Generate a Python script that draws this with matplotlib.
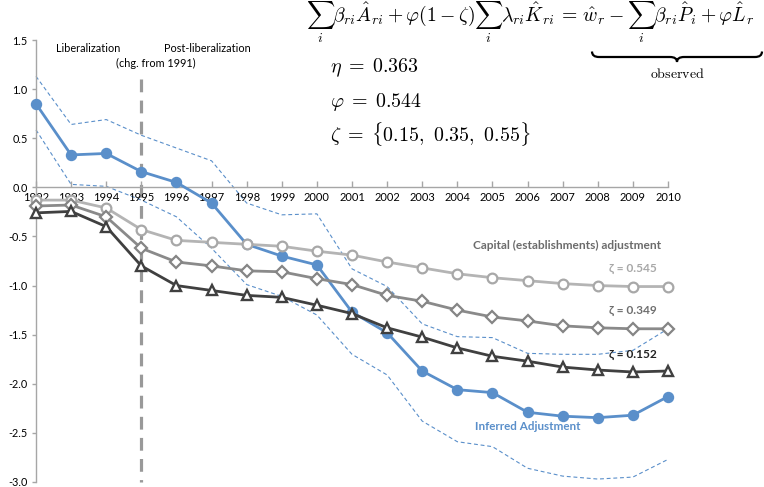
import matplotlib
matplotlib.use("Agg")
import matplotlib.pyplot as plt
from matplotlib.path import Path
from matplotlib.patches import PathPatch

plt.rcParams['mathtext.fontset'] = 'cm'
plt.rcParams['font.family'] = ['Lato', 'DejaVu Sans']

years = list(range(1992, 2011))
year_labels = [str(y) for y in years]

inferred = [0.85, 0.33, 0.345, 0.16, 0.05, -0.16, -0.58, -0.70, -0.79, -1.27,
            -1.48, -1.87, -2.06, -2.09, -2.29, -2.33, -2.345, -2.32, -2.13]
upper = [1.13, 0.64, 0.69, 0.53, 0.40, 0.27, -0.16, -0.28, -0.27, -0.83,
         -1.01, -1.39, -1.52, -1.53, -1.69, -1.70, -1.70, -1.66, -1.44]
lower = [0.585, 0.03, 0.01, -0.13, -0.30, -0.62, -0.99, -1.11, -1.30, -1.70,
         -1.91, -2.38, -2.59, -2.64, -2.86, -2.94, -2.97, -2.95, -2.77]
z545 = [-0.13, -0.13, -0.21, -0.43, -0.54, -0.56, -0.58, -0.60, -0.65, -0.69,
        -0.76, -0.82, -0.88, -0.92, -0.95, -0.98, -1.00, -1.01, -1.01]
z349 = [-0.19, -0.18, -0.30, -0.62, -0.76, -0.80, -0.85, -0.86, -0.93, -0.99,
        -1.10, -1.16, -1.25, -1.32, -1.36, -1.41, -1.43, -1.44, -1.44]
z152 = [-0.26, -0.245, -0.40, -0.80, -1.00, -1.05, -1.10, -1.12, -1.20, -1.285,
        -1.43, -1.525, -1.635, -1.72, -1.77, -1.83, -1.86, -1.88, -1.87]

yticks = [1.5, 1.0, 0.5, 0.0, -0.5, -1.0, -1.5, -2.0, -2.5, -3.0]
ytick_labels = ["1.5", "1.0", "0.5", "0.0", "-0.5", "-1.0", "-1.5", "-2.0", "-2.5", "-3.0"]

W, H = 764, 487
fig = plt.figure(figsize=(W / 100, H / 100), dpi=100)
ax = fig.add_axes([36 / W, 1 - 482 / H, (668 - 36) / W, (482 - 40) / H])
ax.set_xlim(1992, 2010)
ax.set_ylim(-3.0, 1.5)

blue = '#5a8fca'
axis_grey = '#a6a6a6'

# bands
ax.plot(years, upper, color=blue, lw=0.8, ls=(0, (3.5, 2.5)), zorder=2, clip_on=False)
ax.plot(years, lower, color=blue, lw=0.8, ls=(0, (3.5, 2.5)), zorder=2, clip_on=False)

# inferred
ax.plot(years, inferred, color=blue, lw=2.0, marker='o', ms=7.2, mfc=blue, mec=blue,
        zorder=3, clip_on=False)

# capital adjustment series
ax.plot(years, z545, color='#b4b4b4', lw=2.0, marker='o', ms=7, mfc='white', mec='#a8a8a8',
        mew=1.6, zorder=4, clip_on=False)
ax.plot(years, z349, color='#8a8a8a', lw=2.0, marker='D', ms=5.8, mfc='white', mec='#858585',
        mew=1.6, zorder=5, clip_on=False)
ax.plot(years, z152, color='#404040', lw=2.0, marker='^', ms=7.5, mfc='white', mec='#404040',
        mew=1.7, zorder=6, clip_on=False)

# vertical dashed line at 1995
ax.plot([1995, 1995], [1.10, -3.0], color='#999999', lw=2.3, ls=(0, (4, 2.6)), zorder=2.2,
        clip_on=False)

# axes styling
for s in ['top', 'right']:
    ax.spines[s].set_visible(False)
ax.spines['bottom'].set_position(('data', 0))
ax.spines['bottom'].set_color(axis_grey)
ax.spines['left'].set_color(axis_grey)
ax.spines['bottom'].set_linewidth(1.0)
ax.spines['left'].set_linewidth(1.0)
ax.set_xticks(years)
ax.set_xticklabels(year_labels)
ax.set_yticks(yticks)
ax.set_yticklabels(ytick_labels)
ax.tick_params(axis='x', direction='in', length=4, width=1.0, color=axis_grey,
               labelsize=8.0, pad=3, labelcolor='#000000')
ax.tick_params(axis='y', direction='out', length=3, width=1.0, color=axis_grey,
               labelsize=7.8, pad=3, labelcolor='#000000')
ax.set_axisbelow(False)
for lab in ax.get_xticklabels():
    lab.set_zorder(10)
ax.patch.set_visible(False)

# annotations (data coords)
ax.text(1993.48, 1.41, 'Liberalization', ha='center', va='center', fontsize=7.8, color='#000')
ax.text(1996.88, 1.41, 'Post-liberalization', ha='center', va='center', fontsize=7.8, color='#000')
ax.text(1995.41, 1.26, '(chg. from 1991)', ha='center', va='center', fontsize=7.8, color='#000')

# overlay axes in pixel coordinates
ov = fig.add_axes([0, 0, 1, 1])
ov.set_xlim(0, W)
ov.set_ylim(H, 0)
ov.axis('off')
ov.patch.set_visible(False)

ov.text(661, 245, 'Capital (establishments) adjustment', ha='right', va='center',
        fontsize=8.6, fontweight='bold', color='#6b6b6b')
ov.text(657, 269, 'ζ = 0.545', ha='right', va='center', fontsize=8.6, fontweight='bold',
        color='#a8a8a8')
ov.text(657, 311, 'ζ = 0.349', ha='right', va='center', fontsize=8.6, fontweight='bold',
        color='#6f6f6f')
ov.text(657, 354, 'ζ = 0.152', ha='right', va='center', fontsize=8.6, fontweight='bold',
        color='#222222', zorder=10)
ov.text(528, 427, 'Inferred Adjustment', ha='center', va='center', fontsize=8.4,
        fontweight='bold', color=blue)

eq = (r'$\sum_i \beta_{ri}\hat{A}_{ri} + \varphi(1-\zeta)\sum_i \lambda_{ri}\hat{K}_{ri}'
      r'\,=\,\hat{w}_r - \sum_i \beta_{ri}\hat{P}_i + \varphi\hat{L}_r$')
ov.text(754, 22, eq, ha='right', va='baseline', fontsize=14.2, color='black')
ov.text(330, 68, r'$\eta\;=\;0.363$', ha='left', va='center', fontsize=14.4, color='black')
ov.text(330, 102, r'$\varphi\;=\;0.544$', ha='left', va='center', fontsize=14.4, color='black')
ov.text(330, 134, r'$\zeta\;=\;\{0.15,\ 0.35,\ 0.55\}$', ha='left', va='center', fontsize=14.4,
        color='black')

# underbrace
x0, x1, xm = 592, 762, 677
yt, ym, yb = 51.5, 57, 62
verts = [(x0, yt), (x0, ym), (x0 + 7, ym), (xm - 7, ym), (xm, ym), (xm, yb),
         (xm, ym), (xm + 7, ym), (x1 - 7, ym), (x1, ym), (x1, yt)]
codes = [Path.MOVETO, Path.CURVE3, Path.CURVE3, Path.LINETO, Path.CURVE3, Path.CURVE3,
         Path.CURVE3, Path.CURVE3, Path.LINETO, Path.CURVE3, Path.CURVE3]
ov.add_patch(PathPatch(Path(verts, codes), fc='none', ec='black', lw=1.6))
ov.text(677, 72.5, r'$\mathrm{observed}$', ha='center', va='center', fontsize=10, color='black')

fig.savefig('out.png', dpi=100)
